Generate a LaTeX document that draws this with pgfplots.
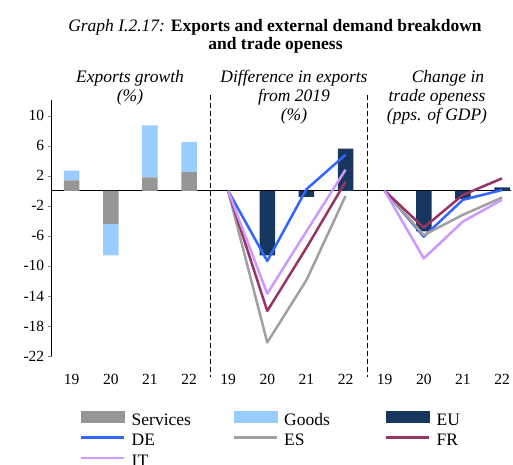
\documentclass[border=0pt]{standalone}
\usepackage{fontspec}
\setmainfont{Liberation Serif}
\usepackage{pgfplots}
\pgfplotsset{compat=1.18}

\definecolor{servgray}{HTML}{969696}
\definecolor{goodsblue}{HTML}{99CCFF}
\definecolor{eunavy}{HTML}{17375E}
\definecolor{deblue}{HTML}{3366FF}
\definecolor{esgray}{HTML}{A0A0A0}
\definecolor{frmaroon}{HTML}{993366}
\definecolor{itlilac}{HTML}{CC99FF}

\pgfplotsset{
  base/.style={
    at={(51.7pt,-356pt)}, anchor=south west,
    scale only axis, width=459.3pt, height=256pt,
    xmin=-0.51, xmax=11.23, ymin=-22, ymax=12.09,
    enlargelimits=false, clip=false,
  },
  ln/.style={line width=2.5pt, line join=round},
}

\begin{document}
\begin{tikzpicture}
\useasboundingbox (0pt,0pt) rectangle (513pt,-464pt);

% bars and axes
\begin{axis}[base,
  ybar stacked, bar width=15.5pt,
  axis y line*=left, axis x line*=bottom,
  x axis line style={draw=none},
  y axis line style={line width=1.2pt},
  ytick={-22,-18,...,10},
  xtick={0,...,11},
  xticklabels={19,20,21,22,19,20,21,22,19,20,21,22},
  major x tick style={draw=none},
  tick align=outside, major tick length=4pt,
  tick label style={font=\fontsize{15.5}{17}\selectfont},
  /pgf/number format/assume math mode=true,
  xticklabel style={yshift=-11pt},
]
\addplot[fill=servgray, draw=none] coordinates {(0,1.4) (1,-4.4) (2,1.8) (3,2.5) (4,0) (5,0) (6,0) (7,0) (8,0) (9,0) (10,0) (11,0)};
\addplot[fill=goodsblue, draw=none] coordinates {(0,1.3) (1,-4.2) (2,6.9) (3,4.0) (4,0) (5,0) (6,0) (7,0) (8,0) (9,0) (10,0) (11,0)};
\addplot[fill=eunavy, draw=none] coordinates {(0,0) (1,0) (2,0) (3,0) (4,0) (5,-8.6) (6,-0.8) (7,5.6) (8,0) (9,-5.4) (10,-1.1) (11,0.45)};
\draw[line width=1.3pt] (axis cs:-0.51,0) -- (axis cs:11.23,0);
\draw[line width=1.1pt, dash pattern=on 5pt off 3pt] (axis cs:3.56,12.75) -- (axis cs:3.56,-24.8);
\draw[line width=1.1pt, dash pattern=on 5pt off 3pt] (axis cs:7.57,12.75) -- (axis cs:7.57,-24.8);
\end{axis}

% lines and legend
\begin{axis}[base, axis lines=none, unbounded coords=jump,
  legend columns=3,
  legend cell align=left,
  legend image code/.code={\draw[#1] (0pt,4pt) -- (43pt,4pt);},
  legend style={at={(axis description cs:0.0616,-0.213)}, anchor=north west,
    draw=none, fill=none, inner sep=0pt, column sep=0pt, row sep=0pt,
    font=\fontsize{17.5}{18}\selectfont,
    nodes={text width=95pt, inner xsep=6pt, inner ysep=1.15pt, text height=13pt, text depth=5pt}},
]
\addlegendimage{legend image code/.code={\fill[servgray] (0pt,-0.5pt) rectangle (43pt,10.5pt);}}
\addlegendentry{Services}
\addlegendimage{legend image code/.code={\fill[goodsblue] (0pt,-0.5pt) rectangle (43pt,10.5pt);}}
\addlegendentry{Goods}
\addlegendimage{legend image code/.code={\fill[eunavy] (0pt,-0.5pt) rectangle (43pt,10.5pt);}}
\addlegendentry{EU}
\addplot[ln, deblue] coordinates {(4,0) (5,-9.35) (6,0.2) (7,4.8) (7.5,nan) (8,0) (9,-6.1) (10,-1.2) (11,0.1)};
\addlegendentry{DE}
\addplot[ln, esgray] coordinates {(4,0) (5,-20.2) (6,-11.9) (7,-0.7) (7.5,nan) (8,0) (9,-5.9) (10,-3.2) (11,-0.9)};
\addlegendentry{ES}
\addplot[ln, frmaroon] coordinates {(4,0) (5,-16.0) (6,-7.6) (7,1.2) (7.5,nan) (8,0) (9,-4.9) (10,-0.55) (11,1.65)};
\addlegendentry{FR}
\addplot[ln, itlilac] coordinates {(4,0) (5,-13.7) (6,-5.4) (7,2.8) (7.5,nan) (8,0) (9,-9.0) (10,-4.1) (11,-1.2)};
\addlegendentry{IT}
\end{axis}

% titles
\node[anchor=base, font=\fontsize{17.5}{19}\selectfont] at (275pt,-31.7pt) {\textit{Graph I.2.17:} \textbf{Exports and external demand breakdown}};
\node[anchor=base, font=\fontsize{17.5}{19}\selectfont\bfseries] at (275.5pt,-49.3pt) {and trade openess};
\begin{scope}[every node/.style={anchor=base, font=\fontsize{17.5}{19}\selectfont\itshape}]
\node at (130pt,-82.5pt) {Exports growth};
\node at (130pt,-101.5pt) {(\%)};
\node at (294pt,-82.5pt) {Difference in exports};
\node at (294pt,-101.5pt) {from 2019};
\node at (294pt,-120.5pt) {(\%)};
\node at (448pt,-82.5pt) {Change in};
\node at (437pt,-101.5pt) {trade openess};
\node at (437pt,-120.5pt) {(pps. of GDP)};
\end{scope}
\end{tikzpicture}
\end{document}
